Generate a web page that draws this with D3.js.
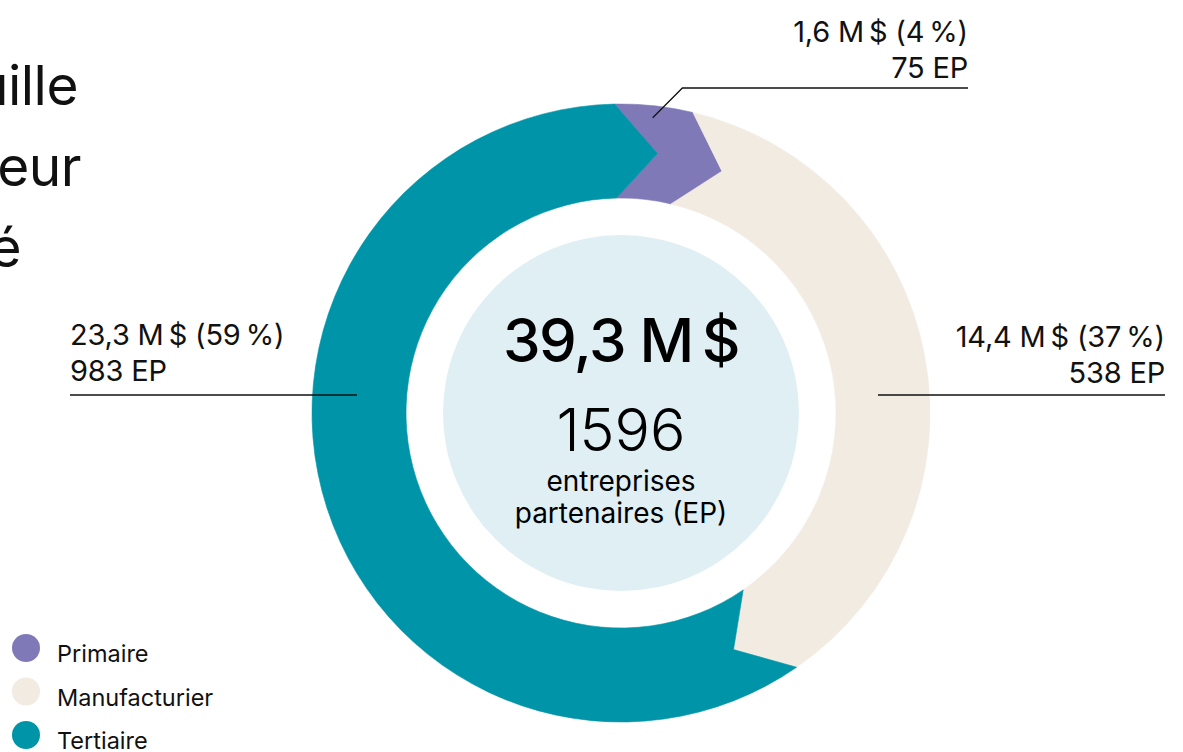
<!DOCTYPE html>
<html>
<head>
<meta charset="utf-8">
<script src="https://cdn.jsdelivr.net/npm/d3@7"></script>
<style>
  body { margin: 0; background: #fff; }
  svg { display: block; font-family: Inter, "Liberation Sans", sans-serif; }
</style>
</head>
<body>
<div id="chart"></div>
<script>
const sectors = ["Primaire", "Manufacturier", "Tertiaire"];
const amounts = [1.6, 14.4, 23.3];      // M$
const partners = [75, 538, 983];        // EP
const colors = ["#7F7AB7", "#F1EBE2", "#0094A8"];
const titleLines = ["Portefeuille", "par secteur", "d\u2019activité"];

const width = 1183;
const height = 752;
const cx = 621, cy = 413;
const rOuter = 309, rInner = 215, rCenter = 178;
const rMid = (rOuter + rInner) / 2;
const notch = 9.2 * Math.PI / 180;
const offset = -1.2 * Math.PI / 180;

const total = d3.sum(amounts);
const totalEP = d3.sum(partners);
const fmt = v => d3.format(".1f")(v).replace(".", ",");
const NB = "\u202F";

const svg = d3.select("#chart").append("svg")
  .attr("width", width)
  .attr("height", height);

// title fragments (cut at the left edge, as in the source layout)
const titleX = [78, 81, 21];
svg.append("g").selectAll("text")
  .data(titleLines)
  .join("text")
  .attr("x", (d, i) => titleX[i])
  .attr("y", (d, i) => 105 + i * 81)
  .attr("text-anchor", "end")
  .style("font-size", "55px")
  .style("letter-spacing", "-0.5px")
  .attr("fill", "#111")
  .text(d => d);

const pie = d3.pie().sort(null)
  .startAngle(offset)
  .endAngle(offset + 2 * Math.PI);
const arcs = pie(amounts);

const pt = (r, a) => [r * Math.sin(a), -r * Math.cos(a)];

// ring segment with arrow-shaped ends
function chevron(d) {
  const a0 = d.startAngle, a1 = d.endAngle;
  const p = d3.path();
  p.moveTo(...pt(rOuter, a0));
  p.arc(0, 0, rOuter, a0 - Math.PI / 2, a1 - Math.PI / 2, false);
  p.lineTo(...pt(rMid, a1 + notch));
  p.lineTo(...pt(rInner, a1));
  p.arc(0, 0, rInner, a1 - Math.PI / 2, a0 - Math.PI / 2, true);
  p.lineTo(...pt(rMid, a0 + notch));
  p.closePath();
  return p.toString();
}

const g = svg.append("g").attr("transform", `translate(${cx},${cy})`);

g.selectAll("path.seg")
  .data(arcs)
  .join("path")
  .attr("class", "seg")
  .attr("d", chevron)
  .attr("fill", (d, i) => colors[i])
  .attr("stroke", (d, i) => colors[i])
  .attr("stroke-width", 0.6);

g.append("circle")
  .attr("r", rCenter)
  .attr("fill", "#DFEFF4");

// center text
g.append("text")
  .attr("y", -51)
  .attr("text-anchor", "middle")
  .style("font-size", "60px")
  .style("font-weight", 500)
  .style("letter-spacing", "-1.5px")
  .attr("fill", "#000")
  .text(fmt(total) + " M" + NB + "$");

g.append("text")
  .attr("y", 38)
  .attr("text-anchor", "middle")
  .style("font-size", "59px")
  .style("font-weight", 300)
  .attr("fill", "#000")
  .text(totalEP);

g.append("text")
  .attr("y", 78)
  .attr("text-anchor", "middle")
  .style("font-size", "28px")
  .attr("fill", "#000")
  .text("entreprises");

g.append("text")
  .attr("y", 110)
  .attr("text-anchor", "middle")
  .style("font-size", "28px")
  .attr("fill", "#000")
  .text("partenaires (EP)");

// labels
const labelText = i => [
  fmt(amounts[i]) + " M" + NB + "$ (" + Math.round(amounts[i] / total * 100) + NB + "%)",
  partners[i] + " EP"
];

const labels = [
  { x: 968, y: 42, anchor: "end" },
  { x: 1165, y: 347, anchor: "end" },
  { x: 70, y: 345, anchor: "start" }
];

labels.forEach((l, i) => {
  const t = svg.append("text")
    .attr("text-anchor", l.anchor)
    .style("font-size", "29px")
    .style("letter-spacing", "-0.2px")
    .attr("fill", "#111");
  labelText(i).forEach((s, j) => {
    t.append("tspan").attr("x", l.x).attr("y", l.y + j * 36).text(s);
  });
});

// leader lines
const a = arcs[0];
const [sx, sy] = pt(rOuter - 12, (a.startAngle + a.endAngle) / 2);
const x0 = cx + sx, y0 = cy + sy;
const lineY = 88;
svg.append("path")
  .attr("d", d3.line()([[x0, y0], [x0 + (y0 - lineY), lineY], [968, lineY]]))
  .attr("fill", "none")
  .attr("stroke", "#111")
  .attr("stroke-width", 1.3);

svg.append("line")
  .attr("x1", 878).attr("x2", 1165)
  .attr("y1", 395).attr("y2", 395)
  .attr("stroke", "#111").attr("stroke-width", 1.3);

svg.append("line")
  .attr("x1", 70).attr("x2", 357)
  .attr("y1", 395).attr("y2", 395)
  .attr("stroke", "#111").attr("stroke-width", 1.3);

// legend
const legend = svg.append("g").selectAll("g")
  .data(sectors)
  .join("g")
  .attr("transform", (d, i) => `translate(0,${648 + i * 43.5})`);

legend.append("circle")
  .attr("cx", 26)
  .attr("r", 14)
  .attr("fill", (d, i) => colors[i]);

legend.append("text")
  .attr("x", 57)
  .attr("y", 14)
  .style("font-size", "23.5px")
  .attr("fill", "#111")
  .text(d => d);
</script>
</body>
</html>
